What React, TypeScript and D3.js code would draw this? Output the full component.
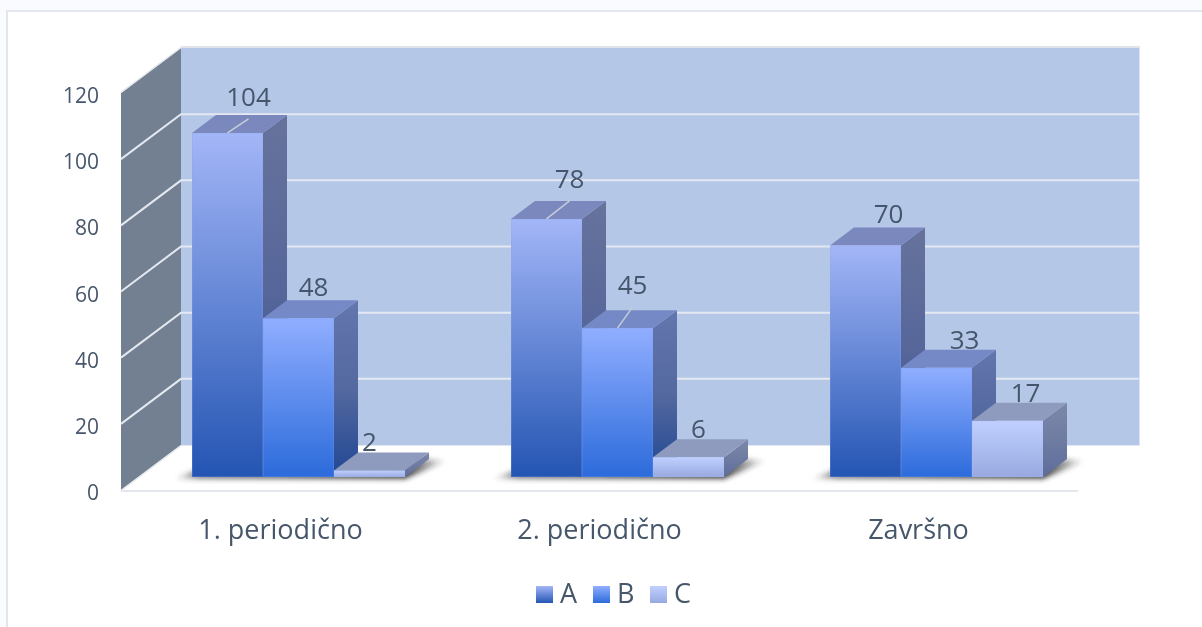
import React from 'react';
import * as d3 from 'd3';

const categories = ['1. periodično', '2. periodično', 'Završno'];
const seriesNames = ['A', 'B', 'C'];
const seriesA = [104, 78, 70];
const seriesB = [48, 45, 33];
const seriesC = [2, 6, 17];
const yTicks = [0, 20, 40, 60, 80, 100, 120];

const allSeries = [seriesA, seriesB, seriesC];

// label nudges from the bar centre / top, in px
const labelNudgeX = [
  [21, 23, 23],
  [15, 15, 28],
  [0, 10, 18],
];
const labelNudgeY = [
  [-2, -6, 3],
  [3, -9, 6],
  [6, 6, 6],
];
const hasLeader = [
  [true, true, false],
  [false, true, false],
  [false, false, false],
];

const textStyle = {
  fill: '#44546a',
  fontFamily: '"Open Sans", sans-serif',
  fontWeight: 400,
  opacity: 0.99, // own layer, so the text gets grey antialiasing
};

// front face of the plot box, and how far the box goes back
const frontLeft = 121;
const frontRight = 1078;
const wallDx = 60;
const wallDy = -45;
const barDx = 24;
const barDy = -18;

const frontY = d3.scaleLinear().domain([0, 120]).range([490, 93]);
const backY = d3.scaleLinear().domain([0, 120]).range([490 + wallDy, 93 + wallDy]);
const barY = d3.scaleLinear().domain([0, 120]).range([477, 80]);
const catX = d3.scaleBand<string>().domain(categories).range([frontLeft, frontRight]);
const barX = d3.scaleBand<string>().domain(seriesNames).range([0, 213]);

const colors = [
  { front: ['#a3b6f7', '#2455b3'], side: ['#67739c', '#56669a', '#1e3f85'], top: '#7a88bd', edge: '#8ea3e4' },
  { front: ['#90aeff', '#2c6bdb'], side: ['#6376ae', '#54699f', '#214793'], top: '#7489c6', edge: '#7f9ceb' },
  { front: ['#c0d0ff', '#97a9e0'], side: ['#7c88a9', '#6f7ca2', '#5d6c9c'], top: '#8f9bbe', edge: '#a9bbf0' },
];

const pts = (p: number[][]) => p.map(d => d.join(',')).join(' ');

const Bar: React.FC<{ s: number; c: number }> = ({ s, c }) => {
  const x0 = (catX(categories[c]) as number) + catX.bandwidth() / 2 - 88.5 + (barX(seriesNames[s]) as number);
  const x1 = x0 + barX.bandwidth();
  const value = allSeries[s][c];
  const y0 = barY(0);
  const y1 = barY(value);
  const mid = (x0 + x1) / 2;
  const lx = mid + labelNudgeX[s][c];
  const ly = y1 + barDy - 7 + labelNudgeY[s][c];
  return (
    <g>
      <polygon
        points={pts([[x1, y1], [x1 + barDx, y1 + barDy], [x1 + barDx, y0 + barDy], [x1, y0]])}
        fill={`url(#side${s})`}
      />
      <polygon
        points={pts([[x0, y1], [x0 + barDx, y1 + barDy], [x1 + barDx, y1 + barDy], [x1, y1]])}
        fill={colors[s].top}
      />
      <rect x={x0} y={y1} width={x1 - x0} height={y0 - y1} fill={`url(#front${s})`} />
      <rect x={x0 + 0.5} y={y1 + 0.5} width={x1 - x0 - 1} height={y0 - y1 - 1} fill="none" stroke={colors[s].edge} strokeOpacity={0.25} />
      {hasLeader[s][c] && (
        <line x1={mid} y1={y1} x2={lx} y2={ly + 13} stroke="#c6cdd8" strokeWidth={1.5} />
      )}
      <text x={lx} y={ly} textAnchor="middle" fontSize={26} style={textStyle}>
        {value}
      </text>
    </g>
  );
};

const App: React.FC = () => {
  const backL = frontLeft + wallDx;
  const backR = frontRight + wallDx + 1;
  return (
    <svg
      width={1202}
      height={627}
      style={{ position: 'absolute', left: 0, top: 0, display: 'block', background: '#f9fbfe' }}
    >
      <defs>
        {colors.map((col, i) => (
          <React.Fragment key={i}>
            <linearGradient id={`front${i}`} x1="0" y1="0" x2="0" y2="1">
              <stop offset="0" stopColor={col.front[0]} />
              <stop offset="1" stopColor={col.front[1]} />
            </linearGradient>
            <linearGradient id={`side${i}`} x1="0" y1="0" x2="0" y2="1">
              <stop offset="0" stopColor={col.side[0]} />
              <stop offset="0.5" stopColor={col.side[1]} />
              <stop offset="1" stopColor={col.side[2]} />
            </linearGradient>
          </React.Fragment>
        ))}
        <linearGradient id="shadow" x1="0" y1="0" x2="1" y2="0">
          <stop offset="0" stopColor="#333" stopOpacity={0} />
          <stop offset="0.09" stopColor="#333" stopOpacity={0.6} />
          <stop offset="0.85" stopColor="#222" stopOpacity={0.85} />
          <stop offset="1" stopColor="#222" stopOpacity={0} />
        </linearGradient>
        <filter id="blur" x="-10%" y="-50%" width="120%" height="200%">
          <feGaussianBlur stdDeviation="2.5" />
        </filter>
      </defs>

      {/* card */}
      <rect x={7} y={11} width={1200} height={630} fill="#fff" stroke="#e2e6ee" strokeWidth={2} />

      {/* back wall */}
      <rect x={backL} y={backY(120)} width={backR - backL} height={backY(0) - backY(120)} fill="#b4c7e7" />
      <line x1={backL} x2={backR + 1} y1={backY(120) - 1} y2={backY(120) - 1} stroke="#e0e4ea" strokeWidth={2} />
      <line x1={backR + 0.5} x2={backR + 0.5} y1={backY(120)} y2={backY(0)} stroke="#dbe4f6" />
      <line x1={backL} x2={backR + 1} y1={backY(0) + 0.5} y2={backY(0) + 0.5} stroke="#e2e7f0" />

      {/* left wall */}
      <polygon
        points={pts([[frontLeft, frontY(0)], [backL, backY(0)], [backL, backY(120)], [frontLeft, frontY(120)]])}
        fill="#738091"
      />
      <line x1={frontLeft} y1={frontY(120) - 0.5} x2={backL} y2={backY(120) - 0.5} stroke="#e2e5ea" strokeWidth={1.5} />
      <line x1={frontLeft} y1={frontY(0) + 0.5} x2={backL} y2={backY(0) + 0.5} stroke="#e2e5ea" strokeWidth={1.5} />

      {/* grid */}
      {yTicks.slice(1, -1).map(t => (
        <polyline
          key={t}
          points={pts([[frontLeft, frontY(t)], [backL, backY(t)], [backR, backY(t)]])}
          fill="none"
          stroke="#e3e8f1"
          strokeWidth={2}
        />
      ))}

      {/* floor edge */}
      <line x1={frontLeft} x2={frontRight} y1={frontY(0) + 1} y2={frontY(0) + 1} stroke="#e4e8ee" strokeWidth={2} />

      {yTicks.map(t => (
        <text key={t} x={99} y={frontY(t) + 10} textAnchor="end" fontSize={21} style={textStyle}>
          {t}
        </text>
      ))}

      {/* floor shadows */}
      {categories.map(cat => {
        const x0 = (catX(cat) as number) + catX.bandwidth() / 2 - 88.5;
        const x1 = x0 + 213;
        return (
          <polygon
            key={cat}
            points={pts([[x0 - 18, barY(0) + 2], [x1, barY(0) + 2], [x1 + barDx + 18, barY(0) + barDy + 2], [x1 + barDx - 4, barY(0) + barDy], [x0, barY(0) - 6]])}
            fill="url(#shadow)"
            filter="url(#blur)"
          />
        );
      })}

      {categories.map((_, c) => (
        <g key={c}>
          {/* each bar overlaps the one before it */}
          {[0, 1, 2].map(s => (
            <Bar key={s} s={s} c={c} />
          ))}
        </g>
      ))}

      {categories.map(cat => (
        <text
          key={cat}
          x={(catX(cat) as number) + catX.bandwidth() / 2}
          y={539}
          textAnchor="middle"
          fontSize={27}
          style={textStyle}
        >
          {cat}
        </text>
      ))}

      {/* legend */}
      {seriesNames.map((name, i) => (
        <g key={name} transform={`translate(${536 + i * 57},586)`}>
          <rect width={17} height={17} fill={`url(#front${i})`} />
          <text x={24} y={17} fontSize={27} style={textStyle}>
            {name}
          </text>
        </g>
      ))}
    </svg>
  );
};

export default App;
